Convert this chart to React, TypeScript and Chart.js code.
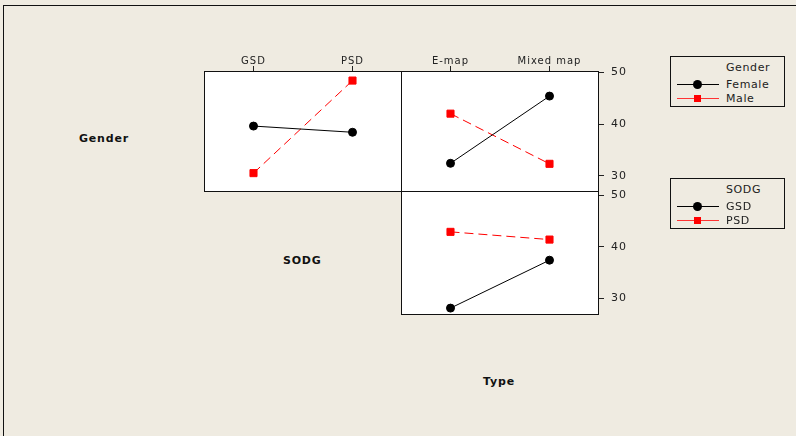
import React, { useEffect, useRef } from "react";
import { Chart, registerables } from "chart.js";

Chart.register(...registerables);

// ---- data ----
const genderLevels = ["Female", "Male"];
const sodgLevels = ["GSD", "PSD"];
const typeLevels = ["E-map", "Mixed map"];
const yTicks = [30, 40, 50];

// Gender x SODG (top-left panel)
const femaleBySodg = [39.6, 38.4];
const maleBySodg = [30.5, 48.4];
// Gender x Type (top-right panel)
const femaleByType = [32.4, 45.4];
const maleByType = [42.0, 32.3];
// SODG x Type (bottom-right panel)
const gsdByType = [28.1, 37.4];
const psdByType = [42.9, 41.4];

const BG = "#EFEBE1";
const FONT = "'DejaVu Sans', Verdana, sans-serif";
const INK = "#222";

const seriesStyles: any[] = [
  {
    borderColor: "#000000",
    borderWidth: 1,
    pointStyle: "circle",
    pointRadius: 4,
    pointBackgroundColor: "#000000",
    pointBorderColor: "#000000",
    pointBorderWidth: 1,
  },
  {
    borderColor: "#FF0000",
    borderWidth: 1,
    borderDash: [9, 5],
    pointStyle: "rect",
    pointRadius: 5,
    pointBackgroundColor: "#FF0000",
    pointBorderColor: "#FF0000",
    pointBorderWidth: 1,
  },
];

const framePlugin = {
  id: "frame",
  beforeDraw(chart: any) {
    const { ctx, chartArea } = chart;
    ctx.letterSpacing = "1px";
    ctx.save();
    ctx.fillStyle = "#FFFFFF";
    ctx.fillRect(
      chartArea.left,
      chartArea.top,
      chartArea.right - chartArea.left,
      chartArea.bottom - chartArea.top
    );
    ctx.restore();
  },
  afterDraw(chart: any) {
    const { ctx, chartArea } = chart;
    ctx.save();
    ctx.strokeStyle = "#111";
    ctx.lineWidth = 1;
    ctx.strokeRect(
      chartArea.left + 0.5,
      chartArea.top + 0.5,
      chartArea.right - chartArea.left - 1,
      chartArea.bottom - chartArea.top - 1
    );
    ctx.restore();
  },
};

function zeroPad(s: any) {
  s.paddingTop = 0;
  s.paddingBottom = 0;
  s.paddingLeft = 0;
  s.paddingRight = 0;
}

type Series = { label: string; data: number[]; kind: number };

function Panel(props: {
  left: number;
  top: number;
  width: number;
  height: number;
  labels: string[];
  series: Series[];
  showX: boolean;
  showY: boolean;
  yMin: number;
  yMax: number;
  pad: { left: number; right: number; top: number; bottom: number };
}) {
  const ref = useRef<HTMLCanvasElement>(null);
  useEffect(() => {
    const p = props;
    const chart = new Chart(ref.current as HTMLCanvasElement, {
      type: "line",
      data: {
        labels: p.labels,
        datasets: p.series.map((s) => ({
          label: s.label,
          data: s.data,
          ...seriesStyles[s.kind],
        })),
      },
      options: {
        responsive: false,
        animation: false,
        devicePixelRatio: 1,
        layout: { padding: p.pad, autoPadding: false },
        plugins: { legend: { display: false }, tooltip: { enabled: false } },
        scales: {
          x: {
            type: "category",
            position: "top",
            offset: true,
            display: p.showX,
            grid: {
              offset: false,
              drawOnChartArea: false,
              drawTicks: true,
              tickLength: 5,
              tickColor: INK,
              tickWidth: 1,
            },
            border: { display: false },
            ticks: {
              font: { family: FONT, size: 10 },
              color: INK,
              padding: -1,
              maxRotation: 0,
              autoSkip: false,
            },
            afterFit: (s: any) => {
              s.height = p.showX ? 31 : 0;
              zeroPad(s);
            },
          } as any,
          y: {
            type: "linear",
            position: "right",
            min: p.yMin,
            max: p.yMax,
            display: p.showY,
            afterBuildTicks: (s: any) => {
              s.ticks = yTicks.map((v) => ({ value: v }));
            },
            grid: {
              drawOnChartArea: false,
              drawTicks: true,
              tickLength: 5,
              tickColor: INK,
              tickWidth: 1,
            },
            border: { display: false },
            ticks: {
              font: { family: FONT, size: 11 },
              color: INK,
              padding: 7,
            },
            afterFit: (s: any) => {
              s.width = p.showY ? 37 : 0;
              zeroPad(s);
            },
          } as any,
        },
      },
      plugins: [framePlugin],
    });
    return () => chart.destroy();
  }, []);
  return (
    <canvas
      ref={ref}
      width={props.width}
      height={props.height}
      style={{
        position: "absolute",
        left: props.left,
        top: props.top,
        width: props.width,
        height: props.height,
      }}
    />
  );
}

function Legend(props: { left: number; top: number; title: string; items: string[] }) {
  const rowY = [27, 41];
  return (
    <div
      style={{
        position: "absolute",
        left: props.left,
        top: props.top,
        width: 113,
        height: 49,
        border: "1px solid #111",
        fontFamily: FONT,
        fontSize: 11,
        letterSpacing: "0.6px",
        color: INK,
      }}
    >
      <div style={{ position: "absolute", left: 55, top: 10, transform: "translateY(-50%)", lineHeight: "13px" }}>
        {props.title}
      </div>
      {props.items.map((it, i) => {
        const y = rowY[i];
        const red = i === 1;
        return (
          <React.Fragment key={it}>
            <div
              style={{
                position: "absolute",
                left: 6,
                top: y,
                width: 42,
                height: 1,
                background: red ? "#FF3333" : "#000",
              }}
            />
            <div
              style={{
                position: "absolute",
                left: red ? 23 : 22,
                top: y - (red ? 3 : 4),
                width: red ? 7 : 9,
                height: red ? 7 : 9,
                borderRadius: red ? 0 : "50%",
                background: red ? "#FF0000" : "#000",
              }}
            />
            <div
              style={{
                position: "absolute",
                left: 55,
                top: y,
                transform: "translateY(-50%)",
                lineHeight: "13px",
              }}
            >
              {it}
            </div>
          </React.Fragment>
        );
      })}
    </div>
  );
}

function RowLabel(props: { left: number; y: number; text: string }) {
  return (
    <div
      style={{
        position: "absolute",
        left: props.left,
        top: props.y,
        transform: "translateY(-50%)",
        fontFamily: FONT,
        fontWeight: "bold",
        fontSize: 11,
        letterSpacing: "0.8px",
        color: "#111",
        lineHeight: "13px",
      }}
    >
      {props.text}
    </div>
  );
}

export default function App() {
  return (
    <div
      style={{
        position: "fixed",
        left: 0,
        top: 0,
        width: 796,
        height: 436,
        background: BG,
        overflow: "hidden",
      }}
    >
      <div
        style={{
          position: "absolute",
          left: 3,
          top: 5,
          width: 800,
          height: 440,
          borderTop: "1px solid #111",
          borderLeft: "1px solid #111",
        }}
      />
      <Panel
        left={200}
        top={40}
        width={206}
        height={156}
        labels={sodgLevels}
        series={[
          { label: genderLevels[0], data: femaleBySodg, kind: 0 },
          { label: genderLevels[1], data: maleBySodg, kind: 1 },
        ]}
        showX={true}
        showY={false}
        yMin={26.85}
        yMax={50.25}
        pad={{ left: 4, right: 4, top: 0, bottom: 4 }}
      />
      <Panel
        left={396}
        top={40}
        width={240}
        height={156}
        labels={typeLevels}
        series={[
          { label: genderLevels[0], data: femaleByType, kind: 0 },
          { label: genderLevels[1], data: maleByType, kind: 1 },
        ]}
        showX={true}
        showY={true}
        yMin={26.85}
        yMax={50.25}
        pad={{ left: 5, right: 0, top: 0, bottom: 4 }}
      />
      <Panel
        left={396}
        top={185}
        width={240}
        height={135}
        labels={typeLevels}
        series={[
          { label: sodgLevels[0], data: gsdByType, kind: 0 },
          { label: sodgLevels[1], data: psdByType, kind: 1 },
        ]}
        showX={false}
        showY={true}
        yMin={26.76}
        yMax={50.83}
        pad={{ left: 5, right: 0, top: 6, bottom: 5 }}
      />
      <RowLabel left={79} y={138} text="Gender" />
      <RowLabel left={283} y={260} text="SODG" />
      <RowLabel left={483} y={381} text="Type" />
      <Legend left={670} top={56} title="Gender" items={genderLevels} />
      <Legend left={670} top={178} title="SODG" items={sodgLevels} />
    </div>
  );
}
